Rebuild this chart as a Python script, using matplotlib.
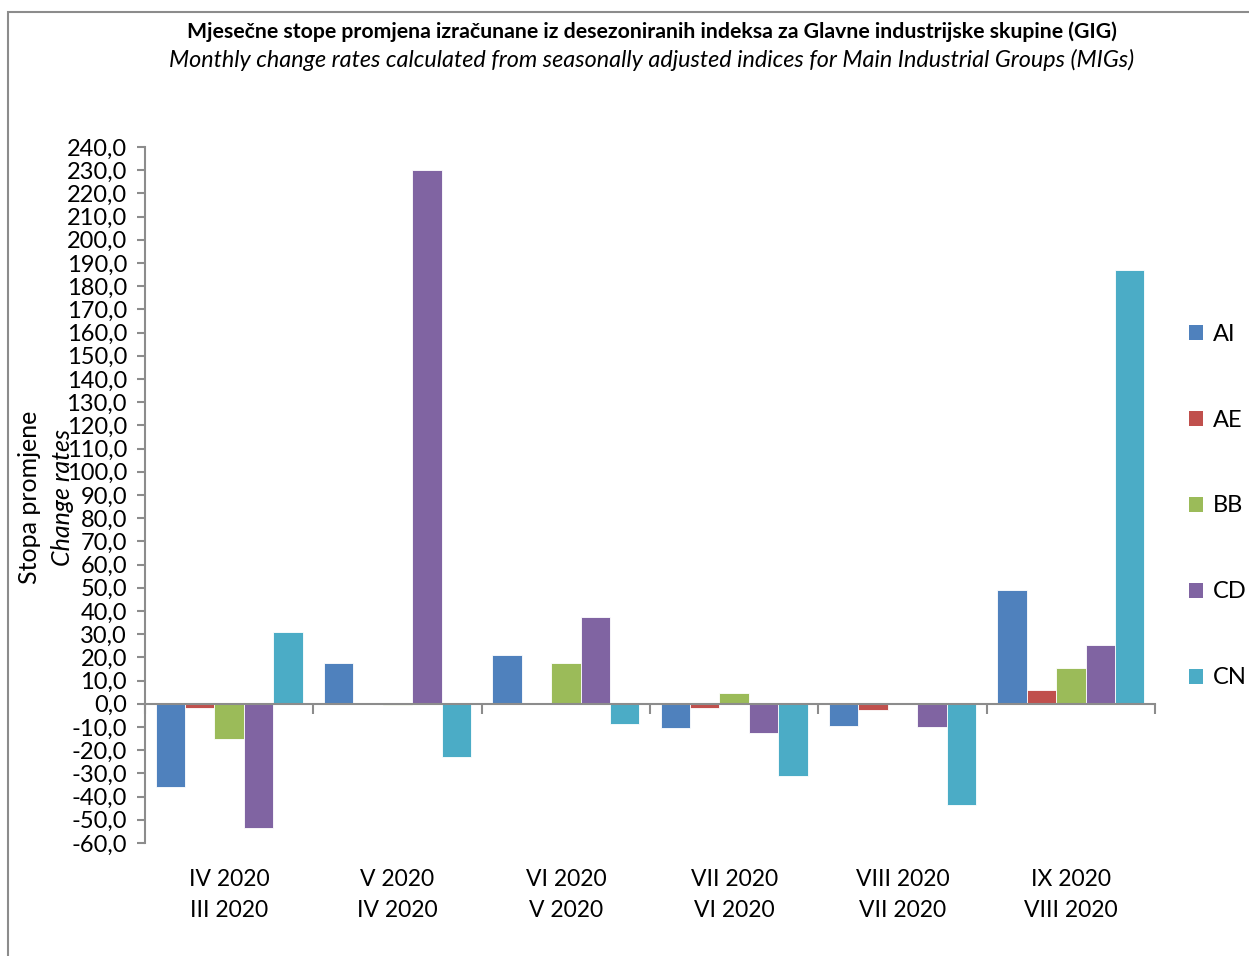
import numpy as np
import matplotlib
matplotlib.use('Agg')
import matplotlib.pyplot as plt
from matplotlib.patches import Rectangle, Patch
from matplotlib.ticker import FuncFormatter, MultipleLocator
import matplotlib.transforms as mtransforms

plt.rcParams['font.family'] = ['Lato', 'DejaVu Sans']

# Data
periods = ["IV 2020\nIII 2020", "V 2020\nIV 2020", "VI 2020\nV 2020",
           "VII 2020\nVI 2020", "VIII 2020\nVII 2020", "IX 2020\nVIII 2020"]
series_names = ["AI", "AE", "BB", "CD", "CN"]
ai = [-36.0, 17.7, 21.0, -10.6, -9.6, 49.0]
ae = [-2.0, -0.1, 0.1, -2.0, -2.6, 5.9]
bb = [-15.0, -0.5, 17.5, 4.6, 0.0, 15.4]
cd = [-53.4, 230.2, 37.4, -12.6, -10.2, 25.4]
cn = [30.9, -22.8, -8.9, -31.2, -43.7, 187.0]
colors = ["#4F81BD", "#C0504D", "#9BBB59", "#8064A2", "#4BACC6"]

series = [ai, ae, bb, cd, cn]

fig = plt.figure(figsize=(12.49, 9.56), dpi=100)
ax = fig.add_axes([145 / 1249, 1 - 843 / 956, 1010 / 1249, 696 / 956])

# outer frame
fig.patches.append(Rectangle((8 / 1249, -0.05), 1.1, 1 - 12 / 956 + 0.05,
                             transform=fig.transFigure, fill=False,
                             edgecolor="#8c8c8c", linewidth=1.5))

x = np.arange(len(periods))
width = 0.175
for i, (name, vals, c) in enumerate(zip(series_names, series, colors)):
    offs = (i - 2) * width
    ax.bar(x + offs, vals, width, color=c, edgecolor="white", linewidth=0.6,
           label=name, zorder=2)

ax.set_xlim(-0.5, len(periods) - 0.5)
ax.set_ylim(-60, 240)
ax.yaxis.set_major_locator(MultipleLocator(10))
ax.yaxis.set_major_formatter(FuncFormatter(lambda v, p: f"{v:.1f}".replace(".", ",")))
ax.tick_params(axis='y', labelsize=17, length=6, width=1.5, color="#8c8c8c", pad=7)

for s in ['top', 'right']:
    ax.spines[s].set_visible(False)
ax.spines['left'].set_color("#8c8c8c")
ax.spines['left'].set_linewidth(1.5)
ax.spines['bottom'].set_position(('data', 0))
ax.spines['bottom'].set_color("#8c8c8c")
ax.spines['bottom'].set_linewidth(1.5)

ax.set_xticks(np.arange(len(periods) + 1) - 0.5)
ax.set_xticklabels([])
ax.tick_params(axis='x', length=7, width=1.5, color="#8c8c8c", direction='out')

trans = mtransforms.blended_transform_factory(ax.transData, ax.transAxes)
for xi, lab in zip(x, periods):
    ax.text(xi, -0.037, lab, transform=trans, ha='center', va='top',
            fontsize=16.5, linespacing=1.6)

# axis labels
fig.text(30 / 1249, 1 - 497 / 956, "Stopa promjene", rotation=90,
         ha='center', va='center', fontsize=18)
fig.text(62 / 1249, 1 - 497 / 956, "Change rates", rotation=90,
         ha='center', va='center', fontsize=18, style='italic')

# titles
fig.text(652 / 1249, 1 - 32 / 956,
         "Mjesečne stope promjena izračunane iz desezoniranih indeksa za Glavne industrijske skupine (GIG)",
         ha='center', va='center', fontsize=15.3, fontweight='bold')
fig.text(652 / 1249, 1 - 60 / 956,
         "Monthly change rates calculated from seasonally adjusted indices for Main Industrial Groups (MIGs)",
         ha='center', va='center', fontsize=16.8, style='italic')

# legend
handles = [Patch(facecolor=c, label=n) for n, c in zip(series_names, colors)]
fig.legend(handles=handles, loc='center left',
           bbox_to_anchor=(1168 / 1249, 1 - 506 / 956), frameon=False,
           fontsize=17, labelspacing=2.75, handlelength=0.6, handleheight=0.6,
           handletextpad=0.4)

fig.savefig("out.png", dpi=100)
